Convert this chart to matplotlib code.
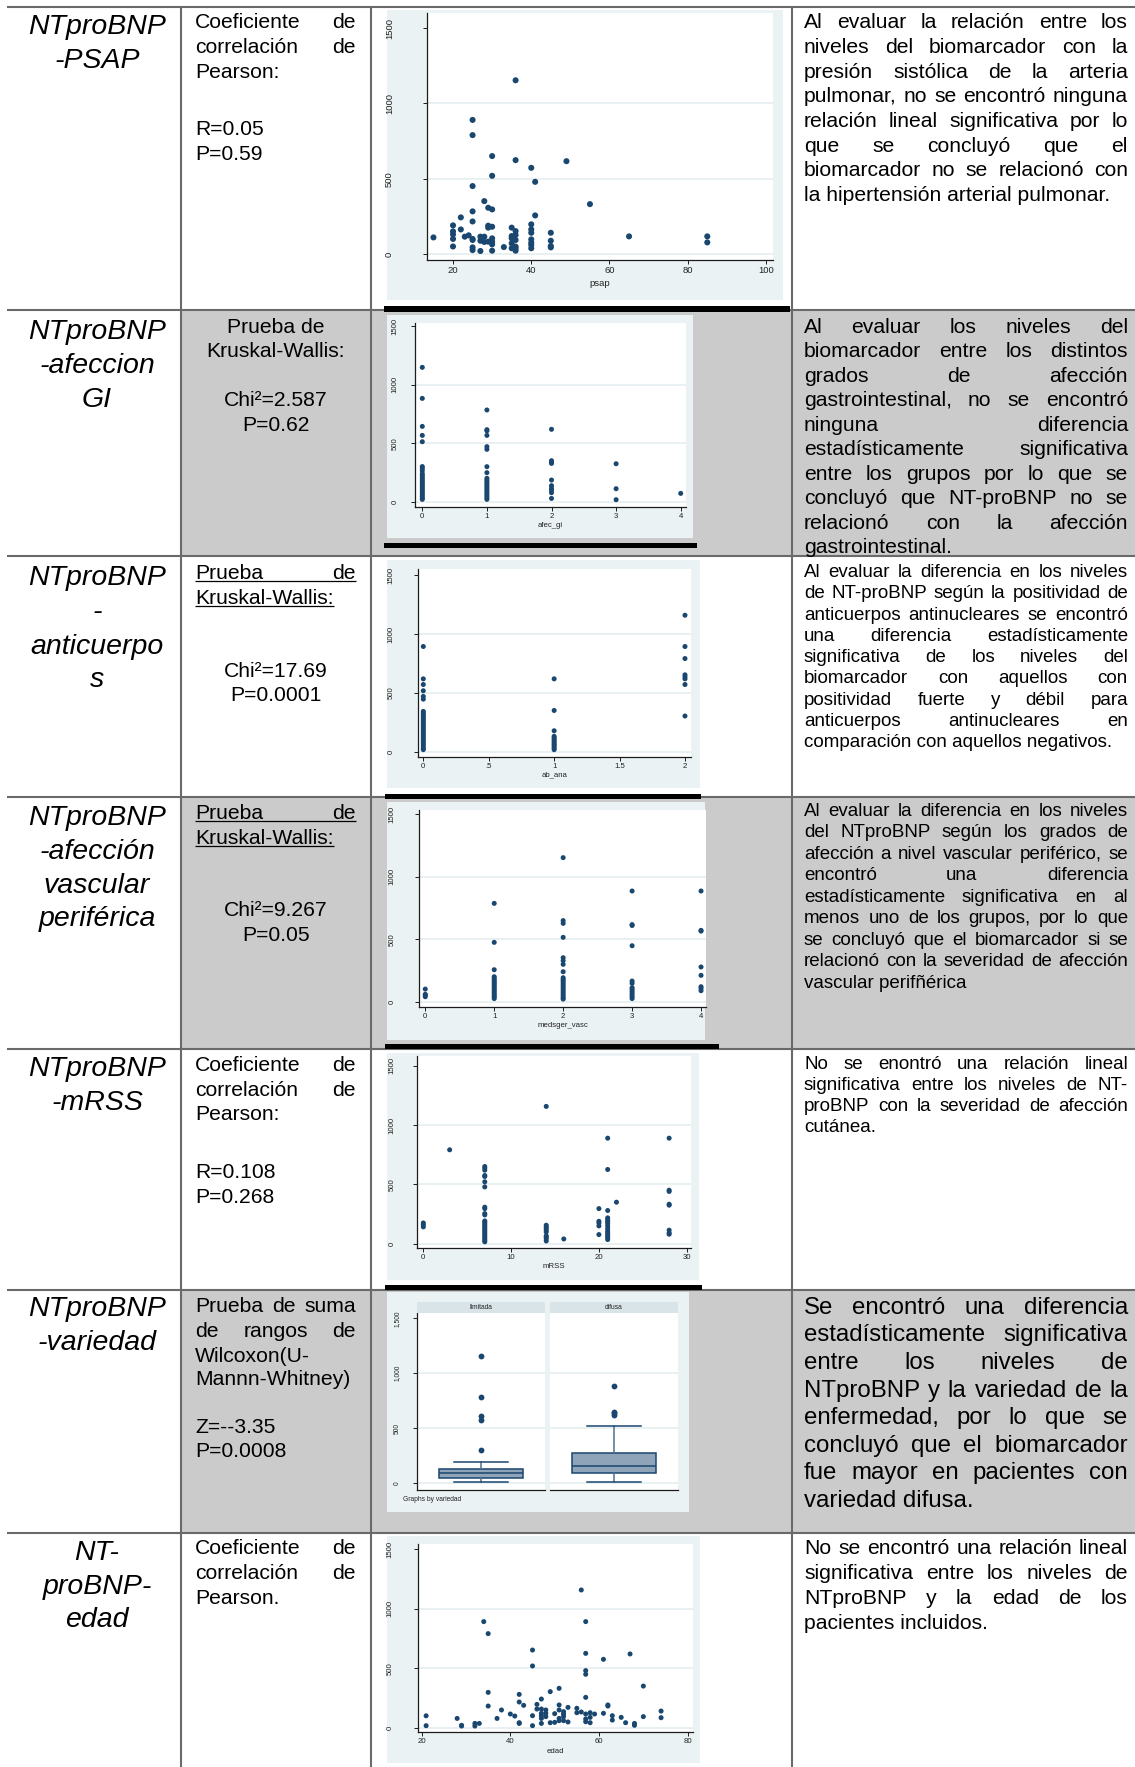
import matplotlib
matplotlib.use("Agg")
import matplotlib.pyplot as plt
from matplotlib.patches import Rectangle
from matplotlib.lines import Line2D
from matplotlib.font_manager import FontProperties

# ---------------------------------------------------------------- data
# NT-proBNP vs systolic pulmonary artery pressure
psap_x = [15, 20, 20, 20, 20, 20, 22, 22, 23, 24,
          25, 25, 25, 25, 25, 25, 25, 25, 25, 27, 27, 27, 28, 28, 28,
          29, 29, 29, 29, 30, 30, 30, 30, 30, 30, 30, 30, 33,
          35, 35, 35, 35, 35, 36, 36, 36, 36, 36, 36, 36, 36,
          40, 40, 40, 40, 40, 40, 40, 40, 41, 41, 45, 45, 45, 45,
          49, 55, 65, 85, 85]
psap_y = [110, 190, 150, 130, 100, 50, 243, 163, 115, 124,
          890, 789, 451, 283, 216, 100, 93, 44, 26, 115, 88, 20, 351, 115, 80,
          307, 188, 175, 82, 650, 519, 296, 181, 104, 82, 64, 22, 46,
          175, 119, 104, 71, 38, 1153, 623, 152, 126, 93, 49, 38, 22,
          572, 197, 163, 141, 97, 75, 60, 38, 479, 256, 141, 88, 53, 44,
          616, 331, 117, 117, 77]

# NT-proBNP by grade of gastrointestinal involvement
afec_gi_levels = [0, 1, 2, 3, 4]
gi_0 = [1147, 882, 643, 566, 512, 300, 285, 265, 240, 225, 210, 195, 180, 165,
        150, 135, 120, 105, 90, 75, 60, 45, 30, 20]
gi_1 = [783, 615, 605, 566, 470, 447, 299, 248, 200, 185, 170, 155, 140, 125,
        110, 95, 80, 65, 50, 35, 20]
gi_2 = [618, 350, 335, 327, 185, 137, 114, 100, 77, 28]
gi_3 = [324, 111, 17]
gi_4 = [71]

# NT-proBNP by antinuclear antibody positivity
ab_ana_levels = [0, 1, 2]
ana_0 = [894, 620, 572, 519, 471, 448, 344, 330, 315, 300, 285, 270, 255, 240,
         225, 210, 195, 180, 165, 150, 135, 120, 105, 90, 75, 60, 45, 30, 20]
ana_1 = [620, 352, 180, 133, 120, 108, 95, 82, 70, 58, 45, 32, 20]
ana_2 = [1159, 894, 792, 654, 637, 620, 572, 305]

# NT-proBNP by Medsger peripheral vascular grade
vasc_levels = [0, 1, 2, 3, 4]
vasc_0 = [101, 59, 53, 40]
vasc_1 = [787, 475, 256, 200, 188, 175, 162, 150, 138, 125, 112, 100, 88, 75,
          62, 50, 38, 25]
vasc_2 = [1153, 649, 627, 515, 352, 328, 299, 240, 192, 178, 165, 150, 135, 120,
          105, 90, 75, 60, 45, 30, 21]
vasc_3 = [886, 617, 610, 448, 165, 147, 112, 100, 85, 70, 55, 40, 25]
vasc_4 = [886, 571, 565, 278, 211, 120, 107, 88]

# NT-proBNP vs modified Rodnan skin score
mrss_levels = [0, 3, 7, 14, 16, 20, 21, 22, 28]
mrss_0 = [174, 158, 141]
mrss_3 = [791]
mrss_7 = [650, 637, 619, 574, 566, 521, 478, 307, 295, 253, 242, 191, 183, 170,
          157, 144, 131, 118, 105, 92, 79, 66, 53, 40, 27, 15]
mrss_14 = [1157, 155, 141, 128, 113, 98, 65, 55, 42, 22]
mrss_16 = [39]
mrss_20 = [295, 188, 174, 149, 76]
mrss_21 = [889, 625, 279, 217, 200, 185, 170, 150, 130, 110, 95, 80, 65, 50, 34]
mrss_22 = [349]
mrss_28 = [889, 450, 440, 332, 324, 113, 90, 79]

# NT-proBNP by disease variety (box plot summaries)
variedad_names = ["limitada", "difusa"]
variedad_q1 = [45, 97]
variedad_med = [91, 158]
variedad_q3 = [130, 276]
variedad_whislo = [15, 15]
variedad_whishi = [191, 518]
variedad_fliers = [[1155, 788, 615, 573, 303], [888, 652, 636, 621]]

# NT-proBNP vs age
edad_x = [21, 21, 28, 29, 29, 32, 32, 33, 34, 35, 35, 35, 37, 38, 40, 41,
          42, 42, 42, 42, 43, 45, 45, 45, 45, 46, 46, 47, 47, 47, 47, 47, 47,
          48, 48, 48, 49, 49, 50, 50, 51, 51, 51, 51, 51, 52, 52, 52, 52,
          53, 53, 55, 55, 56, 56, 57, 57, 57, 57, 57, 57, 57, 57,
          58, 58, 58, 59, 61, 61, 62, 62, 63, 63, 65, 66, 67, 68, 68, 70, 70, 74, 74]
edad_y = [100, 17, 78, 14, 20, 36, 14, 36, 892, 791, 297, 182, 78, 149, 115, 98,
          280, 216, 42, 36, 188, 653, 519, 101, 17, 196, 157, 241, 157, 121, 101, 78, 36,
          149, 121, 93, 303, 42, 118, 45, 331, 191, 149, 78, 59, 135, 115, 93, 59,
          171, 48, 163, 126, 1158, 132, 892, 625, 480, 449, 255, 115, 73, 50,
          126, 87, 42, 115, 575, 121, 191, 182, 101, 64, 87, 42, 620, 36, 20, 350, 93, 140, 84]

# ---------------------------------------------------------------- table text
titles = [
    ["NTproBNP", "-PSAP"],
    ["NTproBNP", "-afeccion", "GI"],
    ["NTproBNP", "-", "anticuerpo", "s"],
    ["NTproBNP", "-afección", "vascular", "periférica"],
    ["NTproBNP", "-mRSS"],
    ["NTproBNP", "-variedad"],
    ["NT-", "proBNP-", "edad"],
]

comments = [
    ["Al evaluar la relación entre los",
     "niveles del biomarcador con la",
     "presión sistólica de la arteria",
     "pulmonar, no se encontró ninguna",
     "relación lineal significativa por lo",
     "que se concluyó que el",
     "biomarcador no se relacionó con",
     "la hipertensión arterial pulmonar."],
    ["Al evaluar los niveles del",
     "biomarcador entre los distintos",
     "grados de afección",
     "gastrointestinal, no se encontró",
     "ninguna diferencia",
     "estadísticamente significativa",
     "entre los grupos por lo que se",
     "concluyó que NT-proBNP no se",
     "relacionó con la afección",
     "gastrointestinal."],
    ["Al evaluar la diferencia en los niveles",
     "de NT-proBNP según la positividad de",
     "anticuerpos antinucleares se encontró",
     "una diferencia estadísticamente",
     "significativa de los niveles del",
     "biomarcador con aquellos con",
     "positividad fuerte y débil para",
     "anticuerpos antinucleares en",
     "comparación con aquellos negativos."],
    ["Al evaluar la diferencia en los niveles",
     "del NTproBNP según los grados de",
     "afección a nivel vascular periférico, se",
     "encontró una diferencia",
     "estadísticamente significativa en al",
     "menos uno de los grupos, por lo que",
     "se concluyó que el biomarcador si se",
     "relacionó con la severidad de afección",
     "vascular perifñérica"],
    ["No se enontró una relación lineal",
     "significativa entre los niveles de NT-",
     "proBNP con la severidad de afección",
     "cutánea."],
    ["Se encontró una diferencia",
     "estadísticamente significativa",
     "entre los niveles de",
     "NTproBNP y la variedad de la",
     "enfermedad, por lo que se",
     "concluyó que el biomarcador",
     "fue mayor en pacientes con",
     "variedad difusa."],
    ["No se encontró una relación lineal",
     "significativa entre los niveles de",
     "NTproBNP y la edad de los",
     "pacientes incluidos."],
]

# ---------------------------------------------------------------- figure
W, H = 1135, 1767
FONT = ["Liberation Sans", "DejaVu Sans"]
plt.rcParams["font.family"] = FONT
fig = plt.figure(figsize=(W / 100, H / 100), dpi=100)
fig.patch.set_facecolor("white")
renderer = fig.canvas.get_renderer()

NAVY = "#1a476f"
GRAPH_BG = "#eaf2f3"
GRID = "#e3ecee"
CELL_GREY = "#cbcbcb"
RULE = "#6a6a6a"


def fx(x):
    return x / W


def fy(y):
    return 1 - y / H


def rect(x0, y0, x1, y1, color, z):
    fig.add_artist(Rectangle((fx(x0), fy(y1)), (x1 - x0) / W, (y1 - y0) / H,
                             transform=fig.transFigure, facecolor=color,
                             edgecolor="none", zorder=z))


def hline(x0, x1, y, color=RULE, lw=1.5, z=2):
    fig.add_artist(Line2D([fx(x0), fx(x1)], [fy(y), fy(y)], transform=fig.transFigure,
                          color=color, lw=lw, zorder=z, solid_capstyle="butt"))


def vline(x, y0, y1, color=RULE, lw=1.5, z=2):
    fig.add_artist(Line2D([fx(x), fx(x)], [fy(y0), fy(y1)], transform=fig.transFigure,
                          color=color, lw=lw, zorder=z, solid_capstyle="butt"))


def text_width(s, size, style="normal"):
    prop = FontProperties(family=FONT, size=size, style=style)
    w, _, _ = renderer.get_text_width_height_descent(s, prop, ismath=False)
    return w


def put(x, y, s, size, ha="left", style="normal"):
    fig.text(fx(x), fy(y), s, fontsize=size, ha=ha, va="baseline", style=style,
             color="black", zorder=5)


def justified(lines, x0, x1, ys, size, base=8, underline=()):
    for i, (line, y) in enumerate(zip(lines, ys)):
        yb = y + base
        words = line.split(" ")
        last = i == len(lines) - 1
        if not last and len(words) > 1:
            widths = [text_width(w, size) for w in words]
            gap = (x1 - x0 - sum(widths)) / (len(words) - 1)
            x = x0
            for w, wd in zip(words, widths):
                put(x, yb, w, size)
                x += wd + gap
            end = x1
        else:
            put(x0, yb, line, size)
            end = x0 + text_width(line, size)
        if i in underline:
            hline(x0, end, yb + 2.5, color="black", lw=0.9, z=5)


# ---------------------------------------------------------------- table grid
row_edges = [7, 310, 556, 797, 1049, 1290, 1533, 1767]
col_edges = [7, 181, 371, 792, 1135]
for r in (1, 3, 5):
    rect(col_edges[1], row_edges[r], W, row_edges[r + 1], CELL_GREY, -3)
for y in row_edges[:-1]:
    hline(7, W, y)
for x in col_edges[1:-1]:
    vline(x, 7, H)

# column 1: row titles
title_ys = [[25, 59], [330, 364, 398], [576, 610, 645, 678], [816, 850, 884, 917],
            [1067, 1101], [1307, 1341], [1551, 1585, 1618]]
for lines, ys in zip(titles, title_ys):
    for s, y in zip(lines, ys):
        put(97, y + 9, s, 20.5, ha="center", style="italic")

# column 2: statistical tests
C2L, C2R, C2C = 195, 356, 276
BODY = 15.2
justified(["Coeficiente de", "correlación de", "Pearson:"], C2L, C2R, [20, 45, 70], BODY)
put(C2L, 127 + 8, "R=0.05", BODY)
put(C2L, 152 + 8, "P=0.59", BODY)

for s, y in zip(["Prueba de", "Kruskal-Wallis:", "Chi²=2.587", "P=0.62"], [325, 349, 398, 423]):
    put(C2C, y + 8, s, BODY, ha="center")

justified(["Prueba de", "Kruskal-Wallis:"], C2L, C2R, [571, 596], BODY, underline=(0, 1))
put(C2C, 669 + 8, "Chi²=17.69", BODY, ha="center")
put(C2C, 693 + 8, "P=0.0001", BODY, ha="center")

justified(["Prueba de", "Kruskal-Wallis:"], C2L, C2R, [811, 836], BODY, underline=(0, 1))
put(C2C, 908 + 8, "Chi²=9.267", BODY, ha="center")
put(C2C, 933 + 8, "P=0.05", BODY, ha="center")

justified(["Coeficiente de", "correlación de", "Pearson:"], C2L, C2R, [1063, 1088, 1112], BODY)
put(C2L, 1170 + 8, "R=0.108", BODY)
put(C2L, 1195 + 8, "P=0.268", BODY)

justified(["Prueba de suma", "de rangos de", "Wilcoxon(U-", "Mannn-Whitney)"], C2L, C2R,
          [1304, 1329, 1354, 1377], BODY)
put(C2L, 1425 + 8, "Z=--3.35", BODY)
put(C2L, 1449 + 8, "P=0.0008", BODY)

justified(["Coeficiente de", "correlación de", "Pearson."], C2L, C2R, [1546, 1571, 1596], BODY)

# column 4: interpretation
C4L, C4R = 804, 1128
comment_layout = [(20.3, 24.7, 15.2), (325, 24.5, 15.2), (570, 21.3, 13.5), (809, 21.5, 13.5),
                  (1062, 21.0, 13.5), (1305, 27.6, 17.3), (1546, 25.0, 15.2)]
for lines, (y0, dy, size) in zip(comments, comment_layout):
    ys = [y0 + k * dy for k in range(len(lines))]
    justified(lines, C4L, C4R, ys, size, base=0.37 * size * 100 / 72)


# ---------------------------------------------------------------- embedded graphs
def graph_bg(x0, y0, x1, y1):
    rect(x0, y0, x1, y1, GRAPH_BG, -1)


def stata_axes(L, T, R, B, xlim, ylim, xticks, xticklabels, xlabel, fs, ypad_px,
               xlabel_y):
    ax = fig.add_axes([L / W, 1 - B / H, (R - L) / W, (B - T) / H])
    ax.set_facecolor("white")
    ax.set_xlim(*xlim)
    ax.set_ylim(*ylim)
    for s in ("top", "right"):
        ax.spines[s].set_visible(False)
    for s in ("left", "bottom"):
        ax.spines[s].set_color("#1c1c1c")
        ax.spines[s].set_linewidth(0.9)
    ax.set_xticks(xticks)
    ax.set_xticklabels(xticklabels)
    ax.set_yticks([0, 500, 1000, 1500])
    ax.set_yticklabels(["0", "500", "1000", "1500"])
    ax.tick_params(axis="both", length=3, width=0.7, color="#1c1c1c",
                   labelsize=fs, labelcolor="#222222")
    ax.tick_params(axis="x", pad=1.5)
    ax.tick_params(axis="y", pad=ypad_px * 0.72)
    for lab in ax.get_yticklabels():
        lab.set_rotation(90)
        lab.set_va("center")
    for v in (0, 500, 1000):
        ax.axhline(v, color=GRID, lw=1.1, zorder=0)
    fig.text(fx((L + R) / 2), fy(xlabel_y), xlabel, fontsize=fs, ha="center",
             va="center", color="#222222")
    return ax


def dots(ax, xs, ys, s):
    ax.scatter(xs, ys, s=s, color=NAVY, edgecolors="none", zorder=3, clip_on=False)


def cat_dots(ax, levels, groups, s):
    xs = [lv for lv, g in zip(levels, groups) for _ in g]
    ys = [v for g in groups for v in g]
    dots(ax, xs, ys, s)


SMALL = 5.6

# psap
graph_bg(387, 10, 783, 300)
ax1 = stata_axes(427, 13, 773, 260, (13.35, 101.8), (-39.8, 1599.6),
                 [20, 40, 60, 80, 100], ["20", "40", "60", "80", "100"], "psap",
                 6.8, 29, 283)
dots(ax1, psap_x, psap_y, 19)

# afec_gi
graph_bg(387, 315, 693, 538)
ax2 = stata_axes(415, 323, 686, 507, (-0.113, 4.082), (-45.2, 1525.6),
                 [0, 1, 2, 3, 4], ["0", "1", "2", "3", "4"], "afec_gi", SMALL, 12, 525)
cat_dots(ax2, afec_gi_levels, [gi_0, gi_1, gi_2, gi_3, gi_4], 13)

# ab_ana
graph_bg(387, 560, 700, 788)
ax3 = stata_axes(418, 569, 691, 757, (-0.0405, 2.046), (-42.3, 1550.8),
                 [0, 0.5, 1, 1.5, 2], ["0", ".5", "1", "1.5", "2"], "ab_ana", SMALL, 19, 775)
cat_dots(ax3, ab_ana_levels, [ana_0, ana_1, ana_2], 13)

# medsger_vasc
graph_bg(387, 802, 705, 1040)
ax4 = stata_axes(419, 810, 706, 1007, (-0.091, 4.072), (-42.4, 1534.4),
                 [0, 1, 2, 3, 4], ["0", "1", "2", "3", "4"], "medsger_vasc", SMALL, 19, 1025)
cat_dots(ax4, vasc_levels, [vasc_0, vasc_1, vasc_2, vasc_3, vasc_4], 13)

# mRSS
graph_bg(387, 1053, 699, 1280)
ax5 = stata_axes(417, 1056, 691, 1248, (-0.72, 30.49), (-37.2, 1582),
                 [0, 10, 20, 30], ["0", "10", "20", "30"], "mRSS", SMALL, 17, 1266)
cat_dots(ax5, mrss_levels, [mrss_0, mrss_3, mrss_7, mrss_14, mrss_16, mrss_20,
                            mrss_21, mrss_22, mrss_28], 13)

# variedad (box plots by group)
graph_bg(387, 1292, 689, 1512)
panels = [(417, 545), (550, 678)]
for k, ((L, R), name) in enumerate(zip(panels, variedad_names)):
    T, B = 1313, 1490
    rect(L, 1302, R, 1313, "#d9e4e9", 0.5)
    fig.text(fx((L + R) / 2), fy(1307.5), name, fontsize=4.8, ha="center",
             va="center", color="#222222", zorder=6)
    ax = fig.add_axes([L / W, 1 - B / H, (R - L) / W, (B - T) / H])
    ax.set_facecolor("white")
    stats = dict(q1=variedad_q1[k], med=variedad_med[k], q3=variedad_q3[k],
                 whislo=variedad_whislo[k], whishi=variedad_whishi[k],
                 fliers=variedad_fliers[k])
    ax.bxp([stats], positions=[0.5], widths=0.65, capwidths=[0.42], patch_artist=True,
           manage_ticks=False,
           boxprops=dict(facecolor="#8fa4b8", edgecolor=NAVY, lw=1.1),
           medianprops=dict(color=NAVY, lw=1.1),
           whiskerprops=dict(color="#50708e", lw=1.1),
           capprops=dict(color=NAVY, lw=1.1),
           flierprops=dict(marker="o", markerfacecolor=NAVY, markeredgecolor="none",
                           markersize=4.2),
           zorder=3)
    ax.set_xlim(0, 1)
    ax.set_ylim(-61, 1548)
    for s in ("top", "right"):
        ax.spines[s].set_visible(False)
    ax.spines["bottom"].set_color("#1c1c1c")
    ax.spines["bottom"].set_linewidth(0.9)
    ax.set_xticks([])
    ax.set_yticks([0, 500, 1000, 1500])
    if k == 0:
        ax.spines["left"].set_color("#1c1c1c")
        ax.spines["left"].set_linewidth(0.9)
        ax.set_yticklabels(["0", "500", "1,000", "1,500"])
        ax.tick_params(axis="y", length=3, width=0.7, color="#1c1c1c", labelsize=4.8,
                       labelcolor="#222222", pad=12 * 0.72)
        for lab in ax.get_yticklabels():
            lab.set_rotation(90)
            lab.set_va("center")
    else:
        ax.spines["left"].set_visible(False)
        ax.tick_params(axis="y", length=0, labelleft=False)
    for v in (0, 500, 1000):
        ax.axhline(v, color=GRID, lw=1.1, zorder=0)
fig.text(fx(403), fy(1499), "Graphs by variedad", fontsize=4.8, ha="left",
         va="center", color="#222222")

# edad
graph_bg(387, 1536, 700, 1763)
ax7 = stata_axes(418, 1544, 693, 1732, (19.17, 81.2), (-36.2, 1544.6),
                 [20, 40, 60, 80], ["20", "40", "60", "80"], "edad", SMALL, 20, 1751)
dots(ax7, edad_x, edad_y, 13)

# dark frame rules left under the pasted graphs
for x0, y0, x1, y1 in [(384, 306, 790, 312), (384, 543, 697, 548), (385, 794, 701, 799),
                       (385, 1044, 719, 1049), (385, 1285, 702, 1290)]:
    rect(x0, y0, x1, y1, "black", 4)

fig.savefig("out.png", dpi=100)
